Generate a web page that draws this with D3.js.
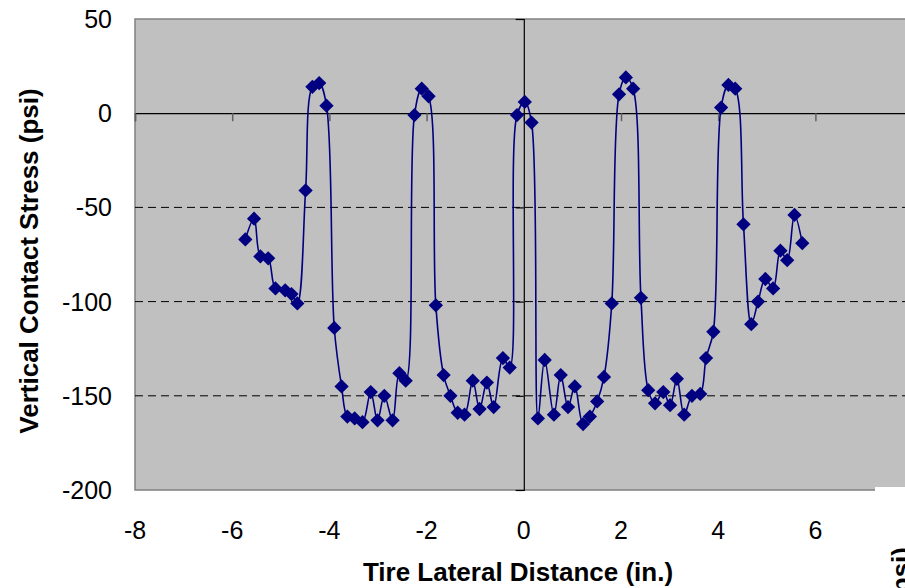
<!DOCTYPE html>
<html>
<head>
<meta charset="utf-8">
<script src="https://cdn.jsdelivr.net/npm/d3@7"></script>
<style>
  body { margin: 0; background: #fff; }
  svg { display: block; font-family: "Liberation Sans", Arial, sans-serif; }
  .tickLabel { font-size: 25px; fill: #000; }
  .axisTitle { font-size: 26px; font-weight: bold; fill: #000; }
</style>
</head>
<body>
<script>
//data
var lateral = [-5.73, -5.55, -5.42, -5.26, -5.11, -4.91, -4.78, -4.66, -4.49, -4.35,
    -4.21, -4.06, -3.90, -3.75, -3.63, -3.48, -3.32, -3.15, -3.01, -2.87,
    -2.70, -2.56, -2.43, -2.25, -2.10, -1.96, -1.81, -1.65, -1.51, -1.36,
    -1.22, -1.05, -0.91, -0.76, -0.62, -0.43, -0.29, -0.14, 0.02, 0.16,
    0.29, 0.43, 0.62, 0.76, 0.91, 1.05, 1.22, 1.36, 1.51, 1.65,
    1.81, 1.96, 2.10, 2.25, 2.41, 2.56, 2.70, 2.87, 3.01, 3.15,
    3.30, 3.46, 3.63, 3.75, 3.90, 4.06, 4.21, 4.35, 4.52, 4.68,
    4.82, 4.97, 5.13, 5.28, 5.42, 5.57, 5.73];
var stress = [-67, -56, -76, -77, -93, -94, -96, -101, -41, 14,
    16, 4, -114, -145, -161, -162, -164, -148, -163, -150,
    -163, -138, -142, -1, 13, 9, -102, -139, -150, -159,
    -160, -142, -157, -143, -156, -130, -135, -1, 6, -5,
    -162, -131, -160, -139, -156, -145, -165, -161, -153, -140,
    -101, 10, 19, 13, -98, -147, -154, -148, -155, -141,
    -160, -150, -149, -130, -116, 3, 15, 13, -59, -112,
    -100, -88, -93, -73, -78, -54, -69];
var xTicks = [-8, -6, -4, -2, 0, 2, 4, 6, 8];
var yTicks = [50, 0, -50, -100, -150, -200];
var gridValues = [-50, -100, -150];

var width = 905, height = 588;
var plotLeft = 135, plotTop = 19, plotBottom = 490;

var svg = d3.select("body").append("svg")
    .attr("width", width)
    .attr("height", height);

var x = d3.scaleLinear().domain([-8, 8]).range([plotLeft, plotLeft + 16 * 48.6]);
var y = d3.scaleLinear().domain([-200, 50]).range([plotBottom, plotTop]);

//plot background
svg.append("rect")
    .attr("x", plotLeft)
    .attr("y", plotTop)
    .attr("width", x(8) - plotLeft)
    .attr("height", plotBottom - plotTop)
    .attr("fill", "#c0c0c0")
    .attr("stroke", "#808080")
    .attr("stroke-width", 1.5);

//dashed gridlines
svg.selectAll(".grid")
    .data(gridValues)
    .enter()
    .append("line")
    .attr("class", "grid")
    .attr("x1", plotLeft)
    .attr("x2", x(8))
    .attr("y1", function(d){ return y(d); })
    .attr("y2", function(d){ return y(d); })
    .attr("stroke", "#000")
    .attr("stroke-dasharray", "8,5");

//horizontal axis crossing at zero, ticks pointing down, labels at bottom
var xAxis = svg.append("g")
    .attr("transform", "translate(0," + y(0) + ")")
    .call(d3.axisBottom(x).tickValues(xTicks).tickSize(8).tickFormat(""));
xAxis.select(".domain").attr("stroke", "#000").attr("stroke-width", 1.2);
xAxis.selectAll(".tick line").attr("stroke", "#606060").attr("stroke-width", 1.5);

svg.selectAll(".xlabel")
    .data(xTicks)
    .enter()
    .append("text")
    .attr("class", "tickLabel")
    .attr("x", function(d){ return x(d); })
    .attr("y", 539)
    .attr("text-anchor", "middle")
    .text(function(d){ return d; });

//vertical axis crossing at zero, ticks pointing left
var yAxis = svg.append("g")
    .attr("transform", "translate(" + x(0) + ",0)")
    .call(d3.axisLeft(y).tickValues(yTicks).tickSize(8).tickFormat(""));
yAxis.select(".domain").attr("stroke", "#000").attr("stroke-width", 1.2);
yAxis.selectAll(".tick line").attr("stroke", "#000").attr("stroke-width", 1.2);

svg.selectAll(".ylabel")
    .data(yTicks)
    .enter()
    .append("text")
    .attr("class", "tickLabel")
    .attr("x", 112)
    .attr("y", function(d){ return y(d) + 9; })
    .attr("text-anchor", "end")
    .text(function(d){ return d; });

//series
var points = lateral.map(function(d, i){ return [d, stress[i]]; });

var line = d3.line()
    .x(function(d){ return x(d[0]); })
    .y(function(d){ return y(d[1]); })
    .curve(d3.curveCatmullRom.alpha(0.5));

svg.append("path")
    .datum(points)
    .attr("d", line)
    .attr("fill", "none")
    .attr("stroke", "#000080")
    .attr("stroke-width", 1.6);

svg.selectAll(".marker")
    .data(points)
    .enter()
    .append("path")
    .attr("class", "marker")
    .attr("d", d3.symbol().type(d3.symbolDiamond2).size(130))
    .attr("transform", function(d){ return "translate(" + x(d[0]) + "," + y(d[1]) + ")"; })
    .attr("fill", "#000080");

//white block from the neighbouring chart
svg.append("rect")
    .attr("x", 875)
    .attr("y", 487)
    .attr("width", 30)
    .attr("height", 101)
    .attr("fill", "#fff");

//axis titles
svg.append("text")
    .attr("class", "axisTitle")
    .attr("x", 518)
    .attr("y", 581)
    .attr("text-anchor", "middle")
    .text("Tire Lateral Distance (in.)");

svg.append("text")
    .attr("class", "axisTitle")
    .attr("transform", "translate(38,261) rotate(-90)")
    .attr("text-anchor", "middle")
    .text("Vertical Contact Stress (psi)");

//edge of the neighbouring chart's title
svg.append("text")
    .attr("class", "axisTitle")
    .attr("transform", "translate(910,547) rotate(-90)")
    .attr("text-anchor", "end")
    .text("Vertical Contact Stress (psi)");
</script>
</body>
</html>
